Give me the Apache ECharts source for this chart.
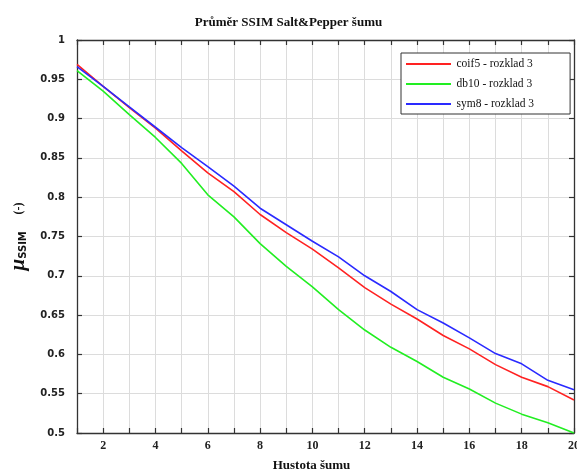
<!DOCTYPE html>
<html>
<head>
<meta charset="utf-8">
<script src="https://cdn.jsdelivr.net/npm/echarts@6/dist/echarts.min.js"></script>
<style>
    html, body {margin: 0; padding: 0; background: #fff;}
    #chart {width: 577px; height: 471px;}
</style>
</head>
<body>
<div id="chart"></div>
<script>
// hustota šumu (osa x)
const hustota = [1, 2, 3, 4, 5, 6, 7, 8, 9, 10, 11, 12, 13, 14, 15, 16, 17, 18, 19, 20];

// průměrné SSIM
const coif5 = [0.969, 0.941, 0.914, 0.888, 0.859, 0.831, 0.807, 0.778, 0.755, 0.734,
    0.710, 0.685, 0.664, 0.645, 0.624, 0.607, 0.587, 0.571, 0.559, 0.542];
const db10 = [0.961, 0.935, 0.905, 0.876, 0.843, 0.803, 0.775, 0.741, 0.712, 0.686,
    0.657, 0.631, 0.609, 0.591, 0.571, 0.556, 0.538, 0.524, 0.513, 0.500];
const sym8 = [0.966, 0.941, 0.915, 0.889, 0.863, 0.839, 0.814, 0.786, 0.765, 0.744,
    0.724, 0.700, 0.680, 0.657, 0.640, 0.621, 0.601, 0.588, 0.567, 0.555];

const nazvy = ['coif5 - rozklad 3', 'db10 - rozklad 3', 'sym8 - rozklad 3'];
const barvy = ['#ff2222', '#22ee22', '#2a2aff'];

function to_points(values) {
    return hustota.map(function (x, i) {
        return [x, values[i]];
    });
}

function build_series() {
    return [coif5, db10, sym8].map(function (values, i) {
        return {
            type: 'line',
            name: nazvy[i],
            data: to_points(values),
            symbol: 'none',
            color: barvy[i],
            lineStyle: {width: 1.6, color: barvy[i]},
            xAxisIndex: 0,
            yAxisIndex: 0
        };
    });
}

const serif = 'Liberation Serif';
const axisLine = {show: true, onZero: false, lineStyle: {color: '#333', width: 1.3}};
const axisTick = {show: true, inside: true, length: 5, lineStyle: {color: '#333', width: 1.2}};
const gridLine = {show: true, lineStyle: {color: '#dcdcdc', width: 1}};

let chart = echarts.init(document.getElementById('chart'), null, {renderer: 'canvas'});
chart.setOption({
    animation: false,
    title: {
        text: 'Průměr SSIM Salt&Pepper šumu',
        left: 'center',
        top: 11,
        textStyle: {fontFamily: serif, fontSize: 13, fontWeight: 'bold', color: '#111'}
    },
    grid: {left: 77, right: 3, top: 40, bottom: 38, outerBoundsMode: 'none'},
    legend: {
        orient: 'vertical',
        left: 401,
        top: 53,
        data: nazvy,
        icon: 'path://M0,0 H45 V2 H0 Z',
        itemWidth: 46,
        itemHeight: 2,
        itemGap: 6,
        padding: [4, 36, 3, 5],
        borderColor: '#333',
        borderWidth: 1,
        backgroundColor: '#fff',
        textStyle: {fontFamily: serif, fontSize: 11.5, color: '#111', lineHeight: 14}
    },
    xAxis: [
        {
            type: 'value', min: 1, max: 20, interval: 1,
            axisLine: axisLine, axisTick: axisTick, splitLine: gridLine,
            axisLabel: {
                fontFamily: serif, fontSize: 12, fontWeight: 'bold', color: '#222', margin: 7,
                formatter: function (v) {
                    return v % 2 === 0 ? String(v) : '';
                }
            },
            name: 'Hustota šumu',
            nameLocation: 'middle',
            nameGap: 26,
            nameTextStyle: {fontFamily: serif, fontSize: 13, fontWeight: 'bold', color: '#111', padding: [0, 28, 0, 0]}
        },
        {
            type: 'value', position: 'top', min: 1, max: 20, interval: 1,
            axisLine: axisLine, axisTick: axisTick, splitLine: {show: false}, axisLabel: {show: false}
        }
    ],
    yAxis: [
        {
            type: 'value', min: 0.5, max: 1, interval: 0.05,
            axisLine: axisLine, axisTick: axisTick, splitLine: gridLine,
            axisLabel: {
                fontFamily: 'DejaVu Sans', fontSize: 10, fontWeight: 'bold', color: '#222', margin: 12,
                padding: [0, 0, 7, 0],
                formatter: function (v) {
                    return String(+v.toFixed(2));
                }
            },
            name: '{mu|μ}{sub|SSIM}     {n|(-)}',
            nameLocation: 'middle',
            nameRotate: 90,
            nameGap: 46,
            nameTextStyle: {
                padding: [0, 0, 0, 0],
                rich: {
                    mu: {fontFamily: serif, fontSize: 21, fontWeight: 'bold', fontStyle: 'italic', color: '#111'},
                    sub: {fontFamily: 'DejaVu Sans', fontSize: 10, fontWeight: 'bold', color: '#111', padding: [9, 0, 0, 0]},
                    n: {fontFamily: serif, fontSize: 12, fontWeight: 'bold', color: '#111'}
                }
            }
        },
        {
            type: 'value', position: 'right', min: 0.5, max: 1, interval: 0.05,
            axisLine: axisLine, axisTick: axisTick, splitLine: {show: false}, axisLabel: {show: false}
        }
    ],
    series: build_series()
});
</script>
</body>
</html>
